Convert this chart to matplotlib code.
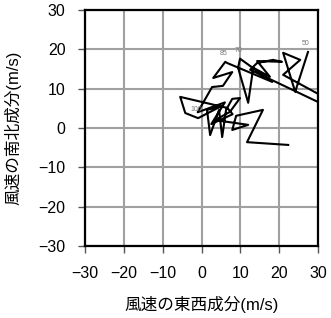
import matplotlib
matplotlib.use("Agg")
import matplotlib.pyplot as plt

plt.rcParams['font.family'] = ['Liberation Sans', 'Noto Sans CJK JP', 'DejaVu Sans']

# wind components (m/s): east-west u, north-south v
u = [27.4, 24.1, 21.0, 25.4, 21.0, 30.5, 30.0, 12.5, 14.3, 18.4, 20.7,
     14.3, 17.6, 13.3, 12.0, 9.4, 9.9, 18.2, 6.6, 6.1, 3.0, 7.9, 5.5,
     2.7, -1.0, 6.0, 2.5, 8.0, 6.6, -5.5, -4.2, -0.9, 5.0, 1.4, 2.2,
     4.5, 5.3, 6.3, 7.9, 9.9, 7.3, 3.5, 12.0, 7.9, 8.9, 15.8, 11.7, 22.3]
v = [19.3, 9.2, 19.1, 17.3, 13.5, 8.4, 6.6, 14.8, 16.5, 17.3, 16.8,
     17.0, 13.0, 15.3, 6.4, 15.3, 17.6, 11.7, 16.5, 16.8, 12.7, 14.2, 10.7,
     10.4, 4.0, 6.5, 1.0, 3.5, 5.1, 7.9, 3.8, 2.5, 5.5, 4.6, -1.8,
     4.6, -2.3, 4.6, 7.4, 7.6, 4.1, 2.0, 0.8, -0.5, 3.1, 4.6, -3.6, -4.3]
mark_idx = [0, 16, 19, 31]
mark_text = ["50", "70", "85", "100"]

fig = plt.figure(figsize=(3.31, 3.18), dpi=100)
ax = fig.add_axes([0.257, 0.226, 0.704, 0.743])

ax.plot(u, v, c='black', lw=1.5, zorder=3)
for i, t in zip(mark_idx, mark_text):
    ax.text(u[i] - 0.5, v[i] + 1.2, t, fontsize=5, color='#777777',
            ha='center', va='bottom', zorder=4)

ax.set_xlim(-30, 30)
ax.set_ylim(-30, 30)
ax.set_xticks(range(-30, 31, 10))
ax.set_yticks(range(-30, 31, 10))
ax.grid(True, color='#a0a0a0', lw=1.5, zorder=1)
for s in ax.spines.values():
    s.set_linewidth(1.6)
ax.tick_params(axis='both', direction='out', length=5, width=1, color='#555555',
               labelsize=11.5, pad=9)

ax.set_xlabel("風速の東西成分(m/s)", fontsize=12, labelpad=11)
ax.set_ylabel("風速の南北成分(m/s)", fontsize=12, labelpad=12)

fig.savefig("out.png", dpi=100)
